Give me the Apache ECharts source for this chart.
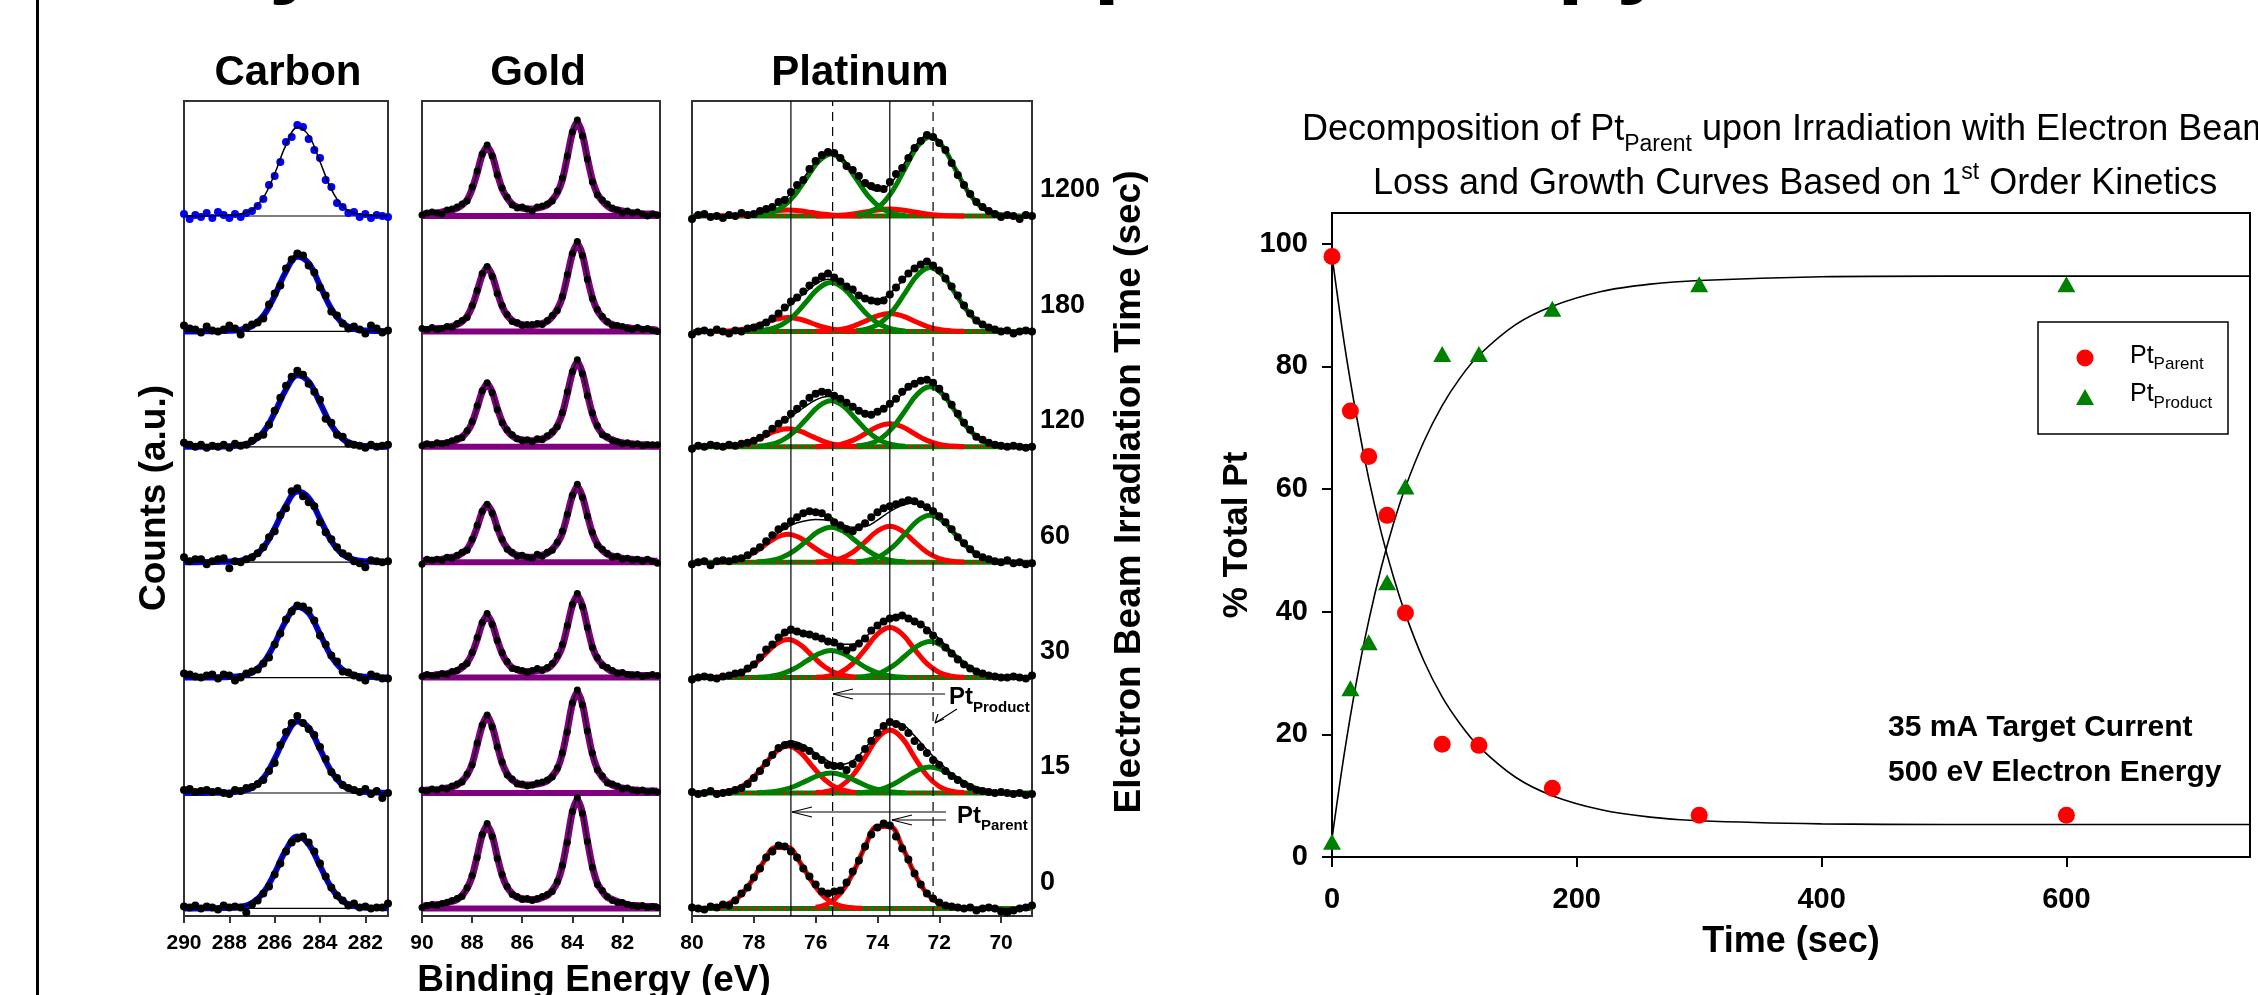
<!DOCTYPE html>
<html>
<head>
<meta charset="utf-8">
<title>XPS decomposition of Pt under electron beam</title>
<script src="https://cdn.jsdelivr.net/npm/echarts@6/dist/echarts.min.js"></script>
<style>
html, body { margin: 0; padding: 0; background: #fff; }
#chart { width: 2258px; height: 995px; }
</style>
</head>
<body>
<div id="chart"></div>
<script>
// irradiation times, top row first
const TIMES = ['1200', '180', '120', '60', '30', '15', '0'];

// ---- Carbon 1s ----
const C_TICKS = [290, 288, 286, 284, 282];
const C_X = [290,289.75,289.5,289.25,289,288.75,288.5,288.25,288,287.75,287.5,287.25,287,286.75,286.5,286.25,286,285.75,285.5,285.25,285,284.75,284.5,284.25,284,283.75,283.5,283.25,283,282.75,282.5,282.25,282,281.75,281.5,281.25,281];
const C_FX = [290,289.5,289,288.5,288,287.5,287,286.5,286,285.5,285,284.5,284,283.5,283,282.5,282,281.5,281];
const C_DOTS = [
  [2,-3,1,-1,3,-2,4,1,-2,2,-1,3,5,10,17,31,40,54,74,79,91,89,77,66,58,36,29,13,9,3,4,-1,2,-2,1,0,-1],
  [6,3,2,-1,5,1,0,2,6,3,-3,4,7,9,13,27,38,46,63,72,78,76,66,59,44,36,20,16,8,3,5,2,-2,6,3,-1,1],
  [4,2,0,2,-1,1,0,2,-1,3,1,2,6,10,12,22,36,49,61,70,76,72,63,55,47,28,24,12,10,3,2,1,-1,2,0,1,2],
  [5,1,3,3,-2,1,3,4,-6,1,0,3,5,9,15,25,31,47,54,71,74,66,60,56,40,30,23,15,9,6,1,-1,-5,2,1,0,1],
  [4,3,1,0,2,3,-1,3,2,-3,0,4,6,8,14,20,33,44,58,66,72,71,67,57,42,33,22,16,6,5,2,0,-3,3,1,-1,-1],
  [3,4,1,2,3,1,2,0,-1,3,2,5,6,9,13,22,30,48,61,70,77,70,64,58,46,34,21,15,8,5,3,1,4,-1,2,-5,0],
  [2,1,3,0,2,1,-1,3,1,2,1,-4,4,8,15,22,34,45,57,66,70,72,66,57,45,32,21,13,8,3,5,1,2,0,1,1,5]
];
const C_FIT = [
  [0,0,0.2,0.4,0.7,2,6.2,18.3,42.2,71.2,88.5,80.6,54.3,26.7,9.8,3.1,1.1,0.4,0.2],
  [0,0,0.2,0.3,0.6,1.7,5.3,15.5,35.6,60,74.6,68,45.8,22.5,8.3,2.6,0.9,0.4,0.2],
  [0,0,0.1,0.3,0.6,1.6,5,14.8,34.1,57.6,71.6,65.2,43.9,21.6,7.9,2.5,0.9,0.4,0.1],
  [0,0,0.1,0.3,0.6,1.6,5,14.6,33.7,56.8,70.6,64.3,43.3,21.3,7.8,2.5,0.9,0.4,0.1],
  [0,0,0.1,0.3,0.6,1.6,5,14.7,33.8,56.9,70.7,64.4,43.4,21.3,7.8,2.5,0.9,0.4,0.1],
  [0,0,0.1,0.3,0.6,1.6,5,14.8,34.1,57.6,71.6,65.2,43.9,21.6,7.9,2.5,0.9,0.4,0.1],
  [0,0,0.1,0.3,0.6,1.7,5.4,15.6,35.2,58.6,71.8,64.2,42.6,20.6,7.4,2.3,0.8,0.3,0.1]
];

// ---- Gold 4f ----
const AU_TICKS = [90, 88, 86, 84, 82];
const AU_X = [90,89.8,89.6,89.4,89.2,89,88.8,88.6,88.4,88.2,88,87.8,87.6,87.4,87.2,87,86.8,86.6,86.4,86.2,86,85.8,85.6,85.4,85.2,85,84.8,84.6,84.4,84.2,84,83.8,83.6,83.4,83.2,83,82.8,82.6,82.4,82.2,82,81.8,81.6,81.4,81.2,81,80.8,80.6];
const AU_DOTS = [
  [1,3,4,3,2,6,7,9,12,15,29,45,62,71,60,41,28,19,11,8,9,7,5,9,10,12,15,25,38,60,84,96,80,57,34,21,16,12,8,6,3,5,3,4,2,0,2,1],
  [3,2,4,2,3,5,4,8,11,14,26,41,58,65,55,38,26,17,10,9,6,7,7,8,7,11,16,21,35,57,78,90,76,52,33,22,15,10,6,6,5,3,2,4,2,3,1,0],
  [1,3,2,4,3,4,6,8,9,16,25,41,56,64,54,37,24,17,12,8,6,7,5,8,7,11,15,20,34,55,75,87,73,51,34,21,12,10,6,5,3,4,2,3,1,2,2,2],
  [-2,3,2,3,2,5,4,7,10,12,23,37,51,58,49,34,23,13,10,6,7,5,4,8,6,10,12,20,31,48,67,78,65,46,30,17,13,9,5,6,3,4,2,3,1,3,1,-1],
  [1,3,2,2,4,3,6,7,11,14,25,40,55,64,53,37,25,16,9,8,7,5,7,9,7,10,14,22,33,52,73,84,71,50,30,20,12,10,7,4,5,3,2,3,1,2,3,2],
  [3,2,4,3,5,4,7,9,11,19,28,50,68,78,66,46,31,18,14,9,9,7,8,10,11,13,16,25,40,61,90,103,88,62,40,23,17,10,9,7,4,5,3,2,3,1,2,1],
  [1,3,4,3,5,6,8,10,12,21,33,51,74,85,72,50,34,22,14,12,9,10,8,10,12,14,17,27,43,66,97,111,95,67,41,24,18,12,8,6,6,4,3,2,3,1,2,1]
];
const AU_FIT = [
  [2,2,3,3,4,5,6,8,11,16,27,43,61,69,61,43,27,18,12,9,8,7,7,8,9,11,16,23,36,59,83,94,82,58,36,22,15,10,7,6,5,4,3,3,2,2,2,1],
  [2,2,2,3,3,4,5,7,10,15,25,40,56,64,56,40,25,16,11,8,7,6,6,7,8,10,15,22,34,55,77,88,77,54,34,21,14,9,7,5,4,4,3,3,2,2,2,1],
  [2,2,2,3,3,4,5,7,10,15,24,39,55,63,55,39,25,16,11,8,7,6,6,7,8,10,14,21,33,53,74,85,74,53,33,20,13,9,7,5,4,3,3,2,2,2,1,1],
  [1,2,2,2,3,4,5,6,9,13,22,35,50,57,50,35,22,14,9,7,6,5,5,6,7,9,13,19,29,47,66,76,66,47,29,18,12,8,6,5,4,3,3,2,2,2,1,1],
  [2,2,2,3,3,4,5,7,10,15,24,38,54,62,54,38,24,15,10,8,6,6,6,7,8,9,13,20,31,51,72,82,72,51,31,19,13,9,6,5,4,3,3,2,2,2,1,1],
  [2,3,3,3,4,5,6,8,12,18,29,48,67,77,67,48,30,19,13,10,8,8,8,9,10,12,17,24,39,63,89,101,89,63,39,24,16,11,8,6,5,4,3,3,2,2,2,2],
  [2,3,3,4,4,6,7,9,13,20,32,52,73,83,73,52,33,21,15,11,10,9,9,9,11,13,18,26,42,68,96,109,96,68,42,25,17,11,9,7,5,4,3,3,2,2,2,2]
];

// ---- Platinum 4f ----
const PT_TICKS = [80, 78, 76, 74, 72, 70];
const PT_SOLID = [76.8, 73.6];    // parent positions
const PT_DASHED = [75.45, 72.2];  // product positions
const PT_X = [80,79.8,79.6,79.4,79.2,79,78.8,78.6,78.4,78.2,78,77.8,77.6,77.4,77.2,77,76.8,76.6,76.4,76.2,76,75.8,75.6,75.4,75.2,75,74.8,74.6,74.4,74.2,74,73.8,73.6,73.4,73.2,73,72.8,72.6,72.4,72.2,72,71.8,71.6,71.4,71.2,71,70.8,70.6,70.4,70.2,70,69.8,69.6,69.4,69.2,69];
const PT_FX = [80,79.6,79.2,78.8,78.4,78,77.6,77.2,76.8,76.4,76,75.6,75.2,74.8,74.4,74,73.6,73.2,72.8,72.4,72,71.6,71.2,70.8,70.4,70,69.6,69.2];
const PT_DOTS = [
  [-3,1,2,-1,0,-2,1,0,3,1,2,5,7,9,14,16,24,31,36,47,55,61,64,63,58,50,46,40,33,30,28,27,34,42,48,58,68,75,81,79,73,66,53,41,31,22,14,9,5,2,-1,1,0,-3,1,0],
  [-3,0,1,-1,2,0,-2,1,0,3,4,6,9,13,18,24,30,34,40,46,51,55,58,54,50,45,42,36,33,31,30,31,37,44,52,58,63,67,70,66,61,53,45,36,26,18,11,7,4,2,0,1,-2,0,1,0],
  [-2,1,0,2,1,0,2,1,3,4,6,9,13,18,23,27,33,38,43,49,53,55,54,51,48,44,40,36,33,32,35,38,43,48,55,60,63,66,67,64,58,50,42,33,24,17,10,7,4,2,1,0,1,0,-1,0],
  [-2,0,1,-3,1,2,1,3,4,7,11,15,21,27,33,36,41,45,49,51,50,49,45,40,37,33,31,35,39,45,50,54,56,58,60,62,61,58,55,51,46,40,33,25,19,13,8,5,3,1,0,2,-1,0,-2,-1],
  [-2,0,1,0,-1,1,2,4,5,9,13,20,28,33,40,45,48,46,44,43,41,39,36,35,31,27,30,34,39,47,52,56,59,60,62,59,56,53,47,42,36,30,24,18,13,9,6,4,2,1,0,0,1,0,-1,2],
  [1,-1,0,2,-1,0,1,3,5,9,15,22,30,38,45,48,49,47,45,42,37,33,28,27,27,23,29,35,44,52,60,67,71,69,66,60,52,46,40,33,28,22,17,13,9,6,3,2,1,0,1,0,-1,0,-2,-1],
  [1,0,-1,2,1,4,3,8,15,21,31,40,51,57,63,62,57,51,40,32,24,17,15,17,18,26,37,48,62,74,81,85,83,72,60,49,35,24,15,10,6,3,2,1,0,1,-2,0,1,0,-3,-4,-2,0,1,3]
];
const PT_FIT = [
  [0,0,0.1,0.2,0.9,2.5,5.9,12,22.5,37.7,54,63,59.1,44.9,30.6,25.1,31.8,49,69.2,80.3,74.3,54.1,30.7,13.6,4.7,1.3,0.3,0],
  [0,0,0.1,0.6,2,5.2,10.7,18,27,37.2,47.2,52.2,48.8,39.2,31.4,30.7,38,50.4,63.1,68.5,61.5,44.1,25,11,3.8,1,0.2,0],
  [0,0,0.2,0.7,2.5,6.4,13.1,21.4,30.1,38.8,46.8,50.3,46.8,38.7,32.9,34.2,41.8,52.6,62.6,65.9,58.3,41.6,23.4,10.3,3.6,1,0.2,0],
  [0,0,0.3,1.1,3.8,9.8,19.2,29.5,37,41,42.6,41.9,38.6,34.9,35.6,42.1,50.6,56.8,59.2,56.6,47.5,33.1,18.5,8.1,2.8,0.8,0.2,0],
  [0,0.1,0.3,1.5,5.1,13.2,25.5,37.9,44.9,44.7,41,36.8,33.4,33.4,40.2,51.8,61.2,62.9,58,49.6,38.8,26.1,14.3,6.2,2.2,0.6,0.1,0],
  [0,0.1,0.4,1.9,6.3,16.2,31,45.5,51.9,48.2,39.8,32.1,28.7,32.2,44.5,60.8,71.1,68.8,57.2,43.3,30.7,19.5,10.5,4.5,1.6,0.4,0.1,0],
  [0,0.3,1.3,4.9,14,30.7,50.5,62.4,58.1,41,22.7,13.3,17.4,35.5,61.8,82,82,61.7,34.9,14.9,4.8,1.2,0.2,0,0,0,0,0]
];
// fitted components (red = parent, green = product), each on its own window
const PT_R1_X = [79.3,78.9,78.5,78.1,77.7,77.3,76.9,76.5,76.1,75.7,75.3,74.9,74.5];
const PT_R2_X = [76,75.6,75.2,74.8,74.4,74,73.6,73.2,72.8,72.4,72,71.6,71.2];
const PT_G1_X = [77.9,77.5,77.1,76.7,76.3,75.9,75.5,75.1,74.7,74.3,73.9,73.5,73.1];
const PT_G2_X = [74.7,74.3,73.9,73.5,73.1,72.7,72.3,71.9,71.5,71.1,70.7,70.3,69.9];
const PT_R1 = [
  [0,0.2,0.6,1.7,3.4,5.2,6,5.2,3.4,1.7,0.6,0.2,0],
  [0.1,0.4,1.4,3.9,7.9,12.2,14,12.2,7.9,3.9,1.4,0.4,0.1],
  [0.1,0.5,1.9,5,10.2,15.6,18,15.6,10.2,5,1.9,0.5,0.1],
  [0.2,0.8,2.9,7.8,15.8,24.3,28,24.3,15.8,7.8,2.9,0.8,0.2],
  [0.2,1.1,3.9,10.6,21.5,33,38,33,21.5,10.6,3.9,1.1,0.2],
  [0.3,1.4,4.8,13.1,26.6,40.8,47,40.8,26.6,13.1,4.8,1.4,0.3],
  [0.9,3.5,11,25.9,45.7,60.8,60.8,45.7,25.9,11,3.5,0.9,0.2]
];
const PT_R2 = [
  [0,0.2,0.7,1.9,4,6.1,7,6.1,4,1.9,0.7,0.2,0],
  [0.1,0.5,1.9,5,10.2,15.6,18,15.6,10.2,5,1.9,0.5,0.1],
  [0.1,0.7,2.4,6.4,13,20,23,20,13,6.4,2.4,0.7,0.1],
  [0.2,1,3.7,10,20.4,31.2,36,31.2,20.4,10,3.7,1,0.2],
  [0.3,1.5,5.2,13.9,28.3,43.4,50,43.4,28.3,13.9,5.2,1.5,0.3],
  [0.4,1.8,6.5,17.5,35.7,54.7,63,54.7,35.7,17.5,6.5,1.8,0.4],
  [1.2,4.8,14.9,34.9,61.7,82,82,61.7,34.9,14.9,4.8,1.2,0.2]
];
const PT_G1 = [
  [0.7,2.7,8.4,20.2,37.6,54.7,62,54.7,37.6,20.2,8.4,2.7,0.7],
  [0.5,2.2,6.6,15.9,29.7,43.2,49,43.2,29.7,15.9,6.6,2.2,0.5],
  [0.5,2,6.2,15,27.9,40.6,46,40.6,27.9,15,6.2,2,0.5],
  [0.4,1.5,4.7,11.4,21.2,30.9,35,30.9,21.2,11.4,4.7,1.5,0.4],
  [0.3,1.2,3.6,8.8,16.4,23.8,27,23.8,16.4,8.8,3.6,1.2,0.3],
  [0.2,0.9,2.7,6.5,12.1,17.6,20,17.6,12.1,6.5,2.7,0.9,0.2],
  [0,0,0,0,0,0,0,0,0,0,0,0,0]
];
const PT_G2 = [
  [0.9,3.5,10.7,25.7,48,69.7,79,69.7,48,25.7,10.7,3.5,0.9],
  [0.7,2.8,8.6,20.8,38.8,56.4,64,56.4,38.8,20.8,8.6,2.8,0.7],
  [0.7,2.6,8.1,19.5,36.4,52.9,60,52.9,36.4,19.5,8.1,2.6,0.7],
  [0.5,2.1,6.3,15.3,28.5,41.5,47,41.5,28.5,15.3,6.3,2.1,0.5],
  [0.4,1.6,4.9,11.7,21.9,31.8,36,31.8,21.9,11.7,4.9,1.6,0.4],
  [0.3,1.1,3.5,8.5,15.8,22.9,26,22.9,15.8,8.5,3.5,1.1,0.3],
  [0,0,0,0,0,0,0,0,0,0,0,0,0]
];

// ---- kinetics (right plot) ----
const K_X_TICKS = [0, 200, 400, 600];
const K_Y_TICKS = [0, 20, 40, 60, 80, 100];
const T_PTS = [0, 15, 30, 45, 60, 90, 120, 180, 300, 600];
const PARENT = [97.9, 72.7, 65.3, 55.7, 39.8, 18.4, 18.2, 11.2, 6.8, 6.8];
const PRODUCT = [2.5, 27.5, 35.0, 44.8, 60.4, 82.0, 82.0, 89.4, 93.4, 93.4];
const FIT_T = [0, 10, 20, 30, 40, 50, 60, 75, 90, 105, 120, 150, 180, 220, 260, 300, 400, 500, 750];
const PARENT_FIT = [98, 83.8, 71.9, 61.7, 53.1, 45.8, 39.6, 32, 26.1, 21.6, 18, 13, 10, 7.7, 6.5, 5.9, 5.4, 5.3, 5.3];
const PRODUCT_FIT = [3, 16.8, 28.6, 38.5, 47, 54.2, 60.3, 67.7, 73.6, 78.2, 81.8, 86.8, 89.8, 92.2, 93.4, 94, 94.6, 94.7, 94.7];

// ---------------------------------------------------------------
const FONT = "'Liberation Sans', Arial, Helvetica, sans-serif";
const BOX_TOP = 101, BOX_BOTTOM = 916, FIRST_BASE = 216, ROW_STEP = 115.4;

const PANELS = [
  { title: 'Carbon', cx: 288, left: 184, width: 204, min: 281, max: 290, ticks: C_TICKS },
  { title: 'Gold', cx: 538, left: 422, width: 238, min: 80.5, max: 90, ticks: AU_TICKS },
  { title: 'Platinum', cx: 860, left: 692, width: 340, min: 69, max: 80, ticks: PT_TICKS }
];

const grid = [], xAxis = [], yAxis = [], series = [];

function addGrid(g, xa, ya) {
  const i = grid.length;
  grid.push(g);
  xAxis.push(Object.assign({ gridIndex: i, type: 'value', splitLine: { show: false } }, xa));
  yAxis.push(Object.assign({ gridIndex: i, type: 'value', splitLine: { show: false } }, ya));
  return i;
}
function pairs(xs, ys) { return xs.map((x, i) => [x, ys[i]]); }
function line(gi, data, color, width, extra) {
  series.push(Object.assign({
    type: 'line', xAxisIndex: gi, yAxisIndex: gi, data: data,
    symbol: 'none', showSymbol: false, clip: false, silent: true,
    lineStyle: { color: color, width: width }, itemStyle: { color: color }, z: 2
  }, extra || {}));
}
function dots(gi, data, color, size) {
  series.push({
    type: 'scatter', xAxisIndex: gi, yAxisIndex: gi, data: data,
    symbol: 'circle', symbolSize: size, itemStyle: { color: color, opacity: 1 },
    clip: false, silent: true, z: 3
  });
}

// frames with the binding energy axes
PANELS.forEach(p => {
  p.frame = addGrid(
    { left: p.left, top: BOX_TOP, width: p.width, height: BOX_BOTTOM - BOX_TOP,
      show: true, borderColor: '#333', borderWidth: 2 },
    { min: p.min, max: p.max, inverse: true,
      axisLine: { show: true, lineStyle: { color: '#333', width: 2 } },
      axisTick: { show: true, customValues: p.ticks, length: 7, lineStyle: { color: '#333', width: 2 } },
      axisLabel: { show: true, customValues: p.ticks, color: '#000', fontSize: 21,
                   fontWeight: 'bold', fontFamily: FONT, margin: 17 } },
    { min: 0, max: 1, show: false });
  p.rows = [];
});

// one hidden grid per spectrum, baseline at y = 0
for (let r = 0; r < TIMES.length; r++) {
  const base = FIRST_BASE + r * ROW_STEP;
  PANELS.forEach(p => {
    p.rows.push(addGrid({ left: p.left, width: p.width, top: base - 110, height: 115 },
      { min: p.min, max: p.max, inverse: true, show: false },
      { min: -5, max: 110, show: false }));
  });
}

// carbon
C_DOTS.forEach((d, r) => {
  const gi = PANELS[0].rows[r];
  line(gi, [[290, 0], [281, 0]], '#000', 1.2, { z: 1 });
  if (r > 0) line(gi, pairs(C_FX, C_FIT[r]), '#0000ff', 6, { smooth: 0.4, z: 2 });
  dots(gi, pairs(C_X, d), r === 0 ? '#0000ff' : '#000', 8);
  line(gi, pairs(C_FX, C_FIT[r]), '#000', 1.5, { smooth: 0.4, z: 4 });
});

// gold
AU_DOTS.forEach((d, r) => {
  const gi = PANELS[1].rows[r];
  line(gi, [[90, 0], [80.5, 0]], '#800080', 6, { z: 1 });
  line(gi, pairs(AU_X, AU_FIT[r]), '#800080', 7, { smooth: 0.3, z: 2 });
  dots(gi, pairs(AU_X, d), '#000', 7);
  line(gi, pairs(AU_X, AU_FIT[r]), '#000', 1.5, { smooth: 0.3, z: 4 });
});

// platinum
PT_DOTS.forEach((d, r) => {
  const gi = PANELS[2].rows[r];
  line(gi, [[80, 0], [69, 0]], '#008000', 5, { z: 1 });
  line(gi, [[80, 0], [69, 0]], '#ff0000', 2.5, { z: 1, lineStyle: { color: '#ff0000', width: 2.5, type: [3, 4] } });
  [[PT_R1_X, PT_R1[r], '#ff0000'], [PT_R2_X, PT_R2[r], '#ff0000'],
   [PT_G1_X, PT_G1[r], '#008000'], [PT_G2_X, PT_G2[r], '#008000']].forEach(c => {
    if (Math.max.apply(null, c[1]) > 0) line(gi, pairs(c[0], c[1]), c[2], 5, { smooth: 0.4, z: 2 });
  });
  dots(gi, pairs(PT_X, d), '#000', 8);
  line(gi, pairs(PT_FX, PT_FIT[r]), '#000', 1.5, { smooth: 0.4, z: 4 });
});

// reference lines through the platinum panel
const ptFrame = PANELS[2].frame;
PT_SOLID.forEach(x => line(ptFrame, [[x, 0], [x, 1]], '#000', 1.2, { z: 5 }));
PT_DASHED.forEach(x => line(ptFrame, [[x, 0], [x, 1]], '#000', 1.2,
  { z: 5, lineStyle: { color: '#000', width: 1.2, type: [9, 6] } }));

// kinetics plot
const axisText = { color: '#000', fontSize: 29, fontWeight: 'bold', fontFamily: FONT };
const KG = addGrid(
  { left: 1332, top: 213, width: 918, height: 644, show: true, borderColor: '#000', borderWidth: 2 },
  { min: 0, max: 750,
    axisLine: { lineStyle: { color: '#000', width: 2 } },
    axisTick: { customValues: K_X_TICKS, length: 10, lineStyle: { color: '#000', width: 2 } },
    axisLabel: Object.assign({ customValues: K_X_TICKS, margin: 28 }, axisText) },
  { min: 0, max: 105,
    axisLine: { show: true, lineStyle: { color: '#000', width: 2 } },
    axisTick: { show: true, customValues: K_Y_TICKS, length: 10, lineStyle: { color: '#000', width: 2 } },
    axisLabel: Object.assign({ customValues: K_Y_TICKS, margin: 24 }, axisText) });
line(KG, pairs(FIT_T, PARENT_FIT), '#000', 1.6, { smooth: 0.3 });
line(KG, pairs(FIT_T, PRODUCT_FIT), '#000', 1.6, { smooth: 0.3 });
series.push({ type: 'scatter', name: 'Pt Parent', xAxisIndex: KG, yAxisIndex: KG, data: pairs(T_PTS, PARENT),
  symbol: 'circle', symbolSize: 17, itemStyle: { color: '#ff0000', opacity: 1 }, z: 5, silent: true });
series.push({ type: 'scatter', name: 'Pt Product', xAxisIndex: KG, yAxisIndex: KG, data: pairs(T_PTS, PRODUCT),
  symbol: 'triangle', symbolSize: [18, 16], itemStyle: { color: '#008000', opacity: 1 }, z: 5, silent: true });

const chart = echarts.init(document.getElementById('chart'));
chart.setOption({ animation: false, backgroundColor: '#fff', grid, xAxis, yAxis, series });

// ---------- texts and annotations ----------
const mctx = document.createElement('canvas').getContext('2d');
function fontOf(size, weight) { return weight + ' ' + size + 'px ' + FONT; }
function txt(s, x, y, size, weight, align, rot) {
  return { type: 'text', x: x, y: y, rotation: rot || 0, silent: true, z: 50,
    style: { text: s, font: fontOf(size, weight), fill: '#000', align: align || 'left', verticalAlign: 'middle' } };
}
// text with sub/superscripts: parts = [text, size, dy]
function runText(parts, x, baseline, weight) {
  const out = [];
  parts.forEach(p => {
    out.push(txt(p[0], x, baseline + p[2] - 0.35 * p[1], p[1], weight, 'left'));
    mctx.font = fontOf(p[1], weight);
    x += mctx.measureText(p[0]).width;
  });
  return out;
}
function seg(x1, y1, x2, y2, w) {
  return { type: 'line', silent: true, z: 50, shape: { x1, y1, x2, y2 }, style: { stroke: '#000', lineWidth: w || 1.2 } };
}

const g = [];
g.push({ type: 'rect', silent: true, shape: { x: 36, y: 0, width: 3, height: 995 }, style: { fill: '#000' } });
g.push(txt('X-ray Photoelectron Spectroscopy', 80, -42, 97, 'bold', 'left'));
PANELS.forEach(p => g.push(txt(p.title, p.cx, 73, 42, 'bold', 'center')));
g.push(txt('Counts (a.u.)', 155, 498, 37, 'bold', 'center', Math.PI / 2));
g.push(txt('Binding Energy (eV)', 594, 981, 37, 'bold', 'center'));
TIMES.forEach((t, r) => g.push(txt(t, 1040, FIRST_BASE + r * ROW_STEP - 26, 27, 'bold', 'left')));
g.push(txt('Electron Beam Irradiation Time (sec)', 1130, 492, 37, 'bold', 'center', Math.PI / 2));

// Pt product / parent arrows
g.push(seg(833, 694, 945, 694), seg(833, 694, 853, 689), seg(833, 694, 853, 699));
g.push(...runText([['Pt', 24, 0], ['Product', 15, 7]], 949, 706, 'bold'));
g.push(seg(957, 709, 935, 723), seg(935, 723, 938, 714), seg(935, 723, 944, 719));
g.push(seg(792, 812, 946, 812), seg(792, 812, 812, 807), seg(792, 812, 812, 817));
g.push(seg(892, 820, 946, 820), seg(892, 820, 912, 815), seg(892, 820, 912, 825));
g.push(...runText([['Pt', 24, 0], ['Parent', 15, 6]], 957, 825, 'bold'));

// kinetics title, legend, notes, axis names
g.push(...runText([['Decomposition of Pt', 36, 0], ['Parent', 23, 10], [' upon Irradiation with Electron Beam', 36, 0]], 1302, 143, 'normal'));
g.push(...runText([['Loss and Growth Curves Based on 1', 36, 0], ['st', 23, -16], [' Order Kinetics', 36, 0]], 1373, 197, 'normal'));
g.push({ type: 'rect', silent: true, z: 50, shape: { x: 2038, y: 322, width: 190, height: 112 },
  style: { fill: '#fff', stroke: '#000', lineWidth: 1.5 } });
g.push({ type: 'circle', silent: true, z: 51, shape: { cx: 2085, cy: 358, r: 8.5 }, style: { fill: '#ff0000' } });
g.push({ type: 'polygon', silent: true, z: 51, shape: { points: [[2085, 389], [2076, 405], [2094, 405]] }, style: { fill: '#008000' } });
g.push(...runText([['Pt', 25, 0], ['Parent', 17, 5]], 2130, 365, 'normal'));
g.push(...runText([['Pt', 25, 0], ['Product', 17, 6]], 2130, 403, 'normal'));
g.push(txt('35 mA Target Current', 1888, 728, 30, 'bold', 'left'));
g.push(txt('500 eV Electron Energy', 1888, 773, 30, 'bold', 'left'));
g.push(txt('% Total Pt', 1237, 535, 35, 'bold', 'center', Math.PI / 2));
g.push(txt('Time (sec)', 1791, 942, 36, 'bold', 'center'));

chart.setOption({ graphic: g });
</script>
</body>
</html>
